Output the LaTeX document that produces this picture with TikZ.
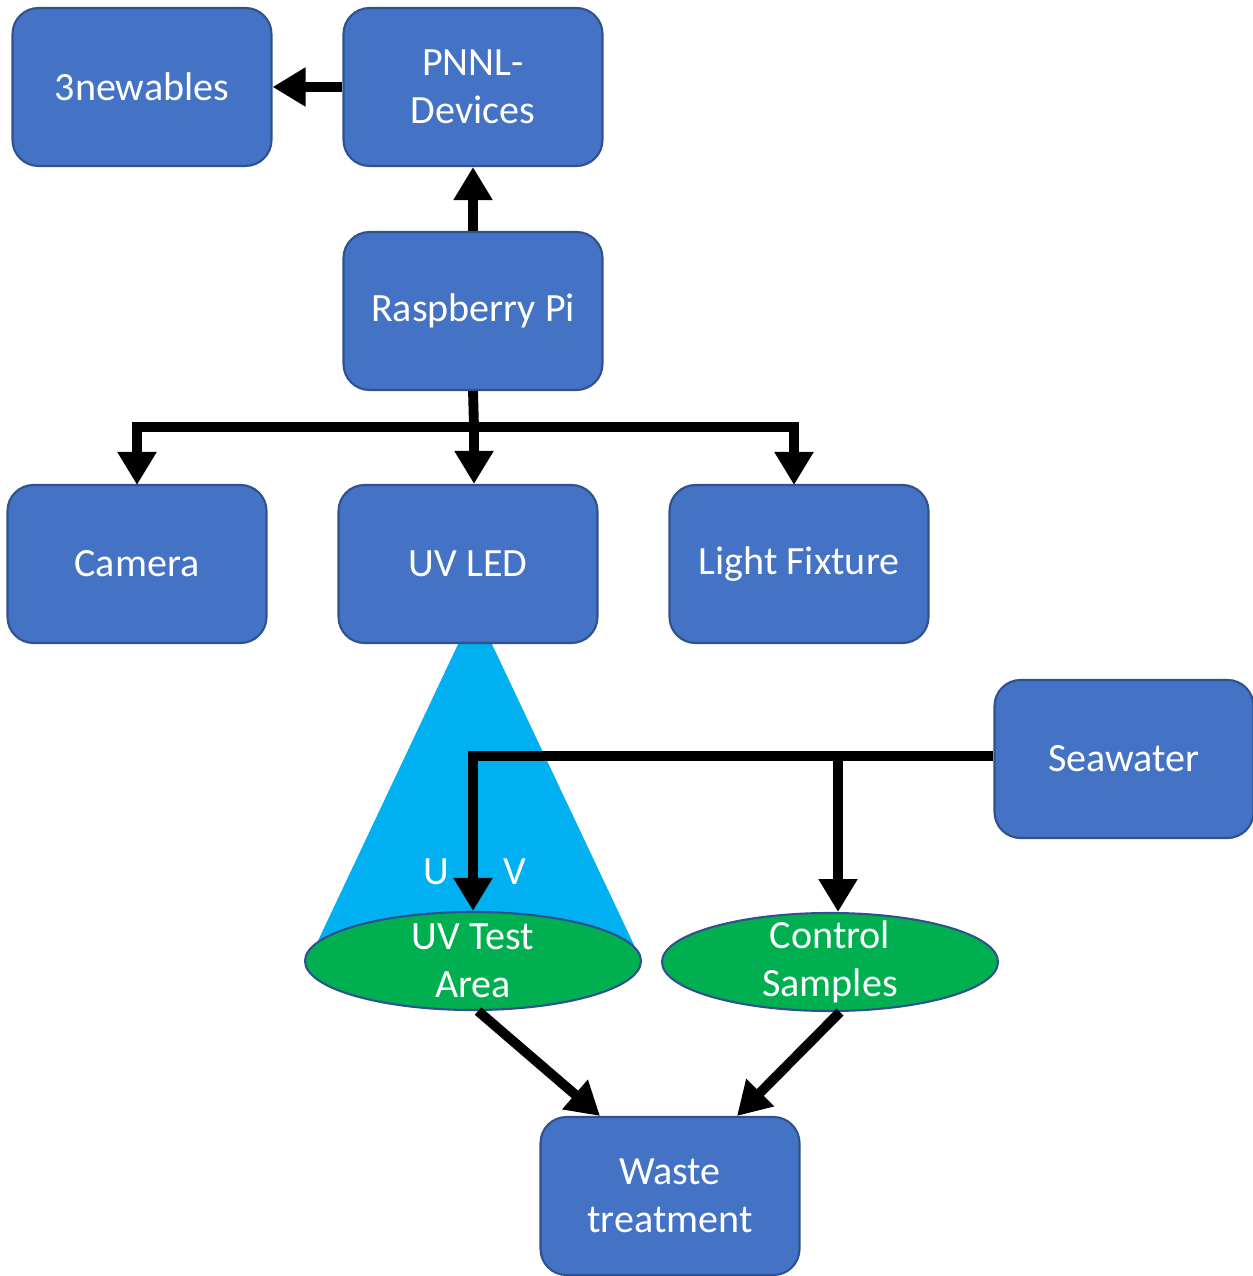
\documentclass[tikz,border=0pt]{standalone}
\usepackage{fontspec}
\setmainfont{Carlito}
\usetikzlibrary{arrows.meta,shapes.geometric}
\definecolor{boxblue}{HTML}{4472C4}
\definecolor{boxedge}{HTML}{2F528F}
\definecolor{areagreen}{HTML}{00B050}
\definecolor{uvcyan}{HTML}{00B0F0}

\begin{document}
\begin{tikzpicture}[x=0.1mm, y=-0.1mm, >={Triangle[width=3.7mm,length=3.3mm]}]
\tikzset{
  block/.style={draw=boxedge, line width=0.6pt, fill=boxblue, rounded corners=2.6mm,
    minimum width=25.9mm, minimum height=15.8mm, align=center, text=white, font=\fontsize{11.4}{13.6}\selectfont},
  area/.style={ellipse, draw=boxedge, line width=0.6pt, fill=areagreen,
    minimum width=33.6mm, minimum height=9.8mm, inner xsep=0pt, inner ysep=-4pt, align=center, text=white, font=\fontsize{11.4}{13.6}\selectfont},
  wire/.style={line width=2.8pt, line join=miter},
  lbl/.style={text=white, font=\fontsize{11.4}{13.6}\selectfont}
}
\useasboundingbox (0,0) rectangle (1253,1276);

% light cone under the UV LED
\fill[uvcyan] (460,640) -- (490,640) -- (634,945) -- (316,945) -- cycle;

% blocks
\node[block] (newables) at (142,87) {3newables};
\node[block] (pnnl) at (473,87) {PNNL-\\Devices};
\node[block] (rpi) at (473,311) {Raspberry Pi};
\node[block] (cam) at (137,564) {Camera};
\node[block] (uvled) at (468,564) {UV LED};
\node[block] (light) at (799,564) {Light Fixture};
\node[block] (sea) at (1124,759) {Seawater};
\node[block] (waste) at (670,1196) {Waste\\treatment};

\node[area] (uvtest) at (473,961) {UV Test\\Area};
\node[area] (ctrl) at (830,962) {Control\\Samples};

\node[lbl] (u) at (436,872) {U};
\node[lbl] (v) at (515,872) {V};

% top links
\draw[wire,->] (pnnl.west) -- (newables.east);
\draw[wire,->] (rpi.north) -- (pnnl.south);

% distribution bus
\coordinate (bus) at (474,427);
\coordinate (camtop) at (137,485);
\coordinate (lighttop) at (794,485);
\draw[wire] (rpi.south) -- (bus);
\draw[wire,<->] (camtop) -- (camtop |- bus) -- (lighttop |- bus) -- (lighttop);
\draw[wire,->] (bus) -- (bus |- uvled.north);

% seawater feed
\coordinate (ctrltop) at (838,912);
\draw[wire,->] (sea.west |- 0,756) -- (uvtest.north |- 0,756) -- (uvtest.north);
\draw[wire,->] (ctrltop |- 0,756) -- (ctrltop);

% to waste
\draw[wire,->] ([xshift=0.5mm]uvtest.south) -- ([xshift=-7mm]waste.north);
\draw[wire,->] ([xshift=1mm]ctrl.south) -- ([xshift=6.7mm]waste.north);

\end{tikzpicture}
\end{document}
